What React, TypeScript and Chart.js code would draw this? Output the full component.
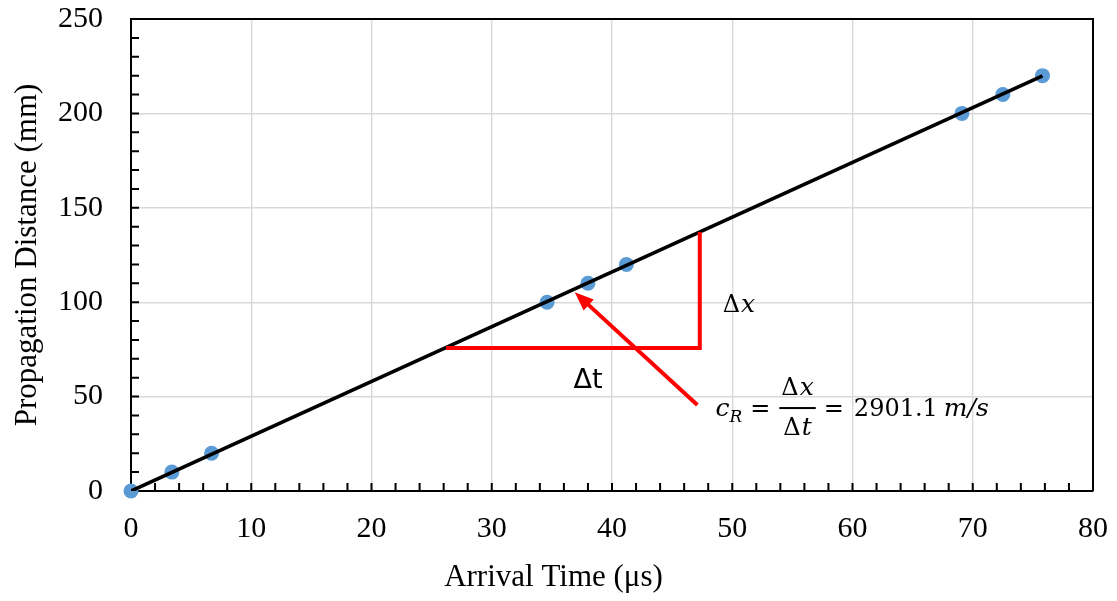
import React, { useEffect, useRef } from 'react';
import { Chart, registerables } from 'chart.js';

Chart.register(...registerables);

// ---- data ----
const arrivalTimes = [0, 3.4, 6.7, 34.6, 38.0, 41.2, 69.1, 72.5, 75.8];
const distances = [0, 10, 20, 100, 110, 120, 200, 210, 220];
const fitX = [0, 75.8];
const fitY = [0, 219.9];
const triangleX = [26.2, 47.3, 47.3];
const triangleY = [75.7, 75.7, 137.2];
const arrowX = [47.1, 36.9];
const arrowY = [45.5, 105.3];
const xTickValues = [0, 10, 20, 30, 40, 50, 60, 70, 80];
const yTickValues = [0, 50, 100, 150, 200, 250];
const speedText = '2901.1';
const xTitle = 'Arrival Time (μs)';
const yTitle = 'Propagation Distance (mm)';

// annotation anchors (data coordinates)
const dxLabelAt = { x: 49.2, y: 94.8 };
const dtLabelAt = { x: 36.8, y: 54.6 };
const formulaAt = { x: 48.6, y: 39.7 };

const SERIF = '"Liberation Serif", "Times New Roman", serif';
const MATH = '"DejaVu Serif", serif';

const decorPlugin = {
  id: 'decor',
  beforeDatasetsDraw(chart: any) {
    const { ctx, chartArea: a, scales } = chart;
    const xs = scales.x;
    const ys = scales.y;
    ctx.save();
    ctx.strokeStyle = '#000';
    ctx.lineWidth = 2;
    ctx.beginPath();
    ctx.moveTo(a.left, a.top);
    ctx.lineTo(a.right, a.top);
    ctx.lineTo(a.right, a.bottom);
    ctx.stroke();
    ctx.beginPath();
    for (let v = xTickValues[0]; v <= xTickValues[xTickValues.length - 1]; v += 2) {
      const px = xs.getPixelForValue(v);
      ctx.moveTo(px, a.bottom);
      ctx.lineTo(px, a.bottom - 8);
    }
    for (let v = yTickValues[0]; v <= yTickValues[yTickValues.length - 1]; v += 10) {
      const py = ys.getPixelForValue(v);
      ctx.moveTo(a.left, py);
      ctx.lineTo(a.left + 8, py);
    }
    ctx.stroke();
    // x-axis title, centred on the whole chart like the original
    ctx.fillStyle = '#000';
    ctx.font = `31px ${SERIF}`;
    ctx.textAlign = 'center';
    ctx.textBaseline = 'middle';
    ctx.fillText(xTitle, chart.width / 2 - 5, chart.height - 23);
    ctx.restore();
  },
  afterDatasetsDraw(chart: any) {
    const { ctx, scales } = chart;
    const xs = scales.x;
    const ys = scales.y;
    ctx.save();
    // arrow
    const x0 = xs.getPixelForValue(arrowX[0]);
    const y0 = ys.getPixelForValue(arrowY[0]);
    const x1 = xs.getPixelForValue(arrowX[1]);
    const y1 = ys.getPixelForValue(arrowY[1]);
    const ang = Math.atan2(y1 - y0, x1 - x0);
    const headLen = 19;
    const headHalf = 7.5;
    const bx = x1 - headLen * Math.cos(ang);
    const by = y1 - headLen * Math.sin(ang);
    ctx.strokeStyle = '#ff0000';
    ctx.fillStyle = '#ff0000';
    ctx.lineWidth = 4;
    ctx.beginPath();
    ctx.moveTo(x0, y0);
    ctx.lineTo(bx + 4 * Math.cos(ang), by + 4 * Math.sin(ang));
    ctx.stroke();
    ctx.beginPath();
    ctx.moveTo(x1, y1);
    ctx.lineTo(bx + headHalf * Math.sin(ang), by - headHalf * Math.cos(ang));
    ctx.lineTo(bx - headHalf * Math.sin(ang), by + headHalf * Math.cos(ang));
    ctx.closePath();
    ctx.fill();

    ctx.fillStyle = '#000';
    ctx.textBaseline = 'alphabetic';
    ctx.textAlign = 'left';
    const up = `24px ${MATH}`;
    const it = `italic 25px ${MATH}`;

    // Δx label
    let px = xs.getPixelForValue(dxLabelAt.x);
    let py = ys.getPixelForValue(dxLabelAt.y);
    ctx.font = up;
    ctx.fillText('Δ', px, py);
    px += ctx.measureText('Δ').width + 1;
    ctx.font = it;
    ctx.fillText('x', px, py);

    // Δt label
    ctx.font = `27px "DejaVu Sans", sans-serif`;
    ctx.fillText('Δt', xs.getPixelForValue(dtLabelAt.x), ys.getPixelForValue(dtLabelAt.y));

    // formula
    px = xs.getPixelForValue(formulaAt.x);
    const base = ys.getPixelForValue(formulaAt.y);
    ctx.font = it;
    ctx.fillText('c', px, base);
    px += ctx.measureText('c').width;
    ctx.font = `italic 17px ${MATH}`;
    ctx.fillText('R', px, base + 6);
    px += ctx.measureText('R').width + 8;
    ctx.font = up;
    ctx.fillText('=', px, base);
    px += ctx.measureText('=').width + 9;
    // fraction
    ctx.font = up;
    const dW = ctx.measureText('Δ').width;
    ctx.font = it;
    const xW = ctx.measureText('x').width;
    const tW = ctx.measureText('t').width;
    const numW = dW + 1 + xW;
    const denW = dW + 1 + tW;
    const barW = Math.max(numW, denW) + 4;
    const cx = px + barW / 2;
    const barY = base - 8;
    ctx.fillRect(px, barY - 1, barW, 2);
    ctx.font = up;
    ctx.fillText('Δ', cx - numW / 2, base - 21);
    ctx.fillText('Δ', cx - denW / 2, base + 19);
    ctx.font = it;
    ctx.fillText('x', cx - numW / 2 + dW + 1, base - 21);
    ctx.fillText('t', cx - denW / 2 + dW + 1, base + 19);
    px += barW + 8;
    ctx.font = up;
    ctx.fillText('=', px, base);
    px += ctx.measureText('=').width + 10;
    ctx.fillText(speedText, px, base);
    px += ctx.measureText(speedText).width + 6;
    ctx.font = it;
    ctx.fillText('m/s', px, base);
    ctx.restore();
  },
};

export default function App() {
  const ref = useRef<HTMLCanvasElement | null>(null);
  useEffect(() => {
    if (!ref.current) return;
    const toPts = (xa: number[], ya: number[]) => xa.map((x, i) => ({ x, y: ya[i] }));
    const chart = new Chart(ref.current, {
      type: 'scatter',
      data: {
        datasets: [
          {
            type: 'line',
            data: toPts(triangleX, triangleY),
            borderColor: '#ff0000',
            borderWidth: 4,
            pointRadius: 0,
            fill: false,
            order: 0,
            borderJoinStyle: 'miter',
          } as any,
          {
            type: 'line',
            data: toPts(fitX, fitY),
            borderColor: '#000000',
            borderWidth: 3.6,
            pointRadius: 0,
            fill: false,
            order: 1,
          } as any,
          {
            type: 'scatter',
            data: toPts(arrivalTimes, distances),
            backgroundColor: '#5b9bd5',
            borderWidth: 0,
            pointRadius: 7.5,
            pointHoverRadius: 7.5,
            clip: false,
            order: 2,
          } as any,
        ],
      },
      options: {
        animation: false,
        responsive: true,
        maintainAspectRatio: false,
        layout: { padding: { top: 19, right: 24, left: 0, bottom: 0 } },
        plugins: { legend: { display: false }, tooltip: { enabled: false } },
        scales: {
          x: {
            type: 'linear',
            min: xTickValues[0],
            max: xTickValues[xTickValues.length - 1],
            afterBuildTicks: (s: any) => { s.ticks = xTickValues.map((v) => ({ value: v })); },
            afterFit: (s: any) => { s.height = 110; s.paddingLeft = 0; s.paddingRight = 0; },
            ticks: { color: '#000', font: { family: SERIF, size: 30 }, padding: 20, maxRotation: 0 },
            grid: { color: '#d9d9d9', lineWidth: 1.4, drawTicks: false },
            border: { color: '#000', width: 2 },
            title: { display: false },
          },
          y: {
            type: 'linear',
            min: yTickValues[0],
            max: yTickValues[yTickValues.length - 1],
            afterBuildTicks: (s: any) => { s.ticks = yTickValues.map((v) => ({ value: v })); },
            afterFit: (s: any) => { s.width = 131; s.paddingTop = 0; s.paddingBottom = 0; },
            ticks: { color: '#000', font: { family: SERIF, size: 30 }, padding: 28 },
            grid: { color: '#d9d9d9', lineWidth: 1.4, drawTicks: false },
            border: { color: '#000', width: 2 },
            title: {
              display: true,
              text: yTitle,
              color: '#000',
              font: { family: SERIF, size: 31 },
              padding: { top: 9, bottom: 0 },
            },
          },
        },
      },
      plugins: [decorPlugin],
    });
    return () => chart.destroy();
  }, []);
  return (
    <div style={{ position: 'absolute', left: 0, top: 0, width: 1117, height: 601, background: '#fff' }}>
      <canvas ref={ref} />
    </div>
  );
}
